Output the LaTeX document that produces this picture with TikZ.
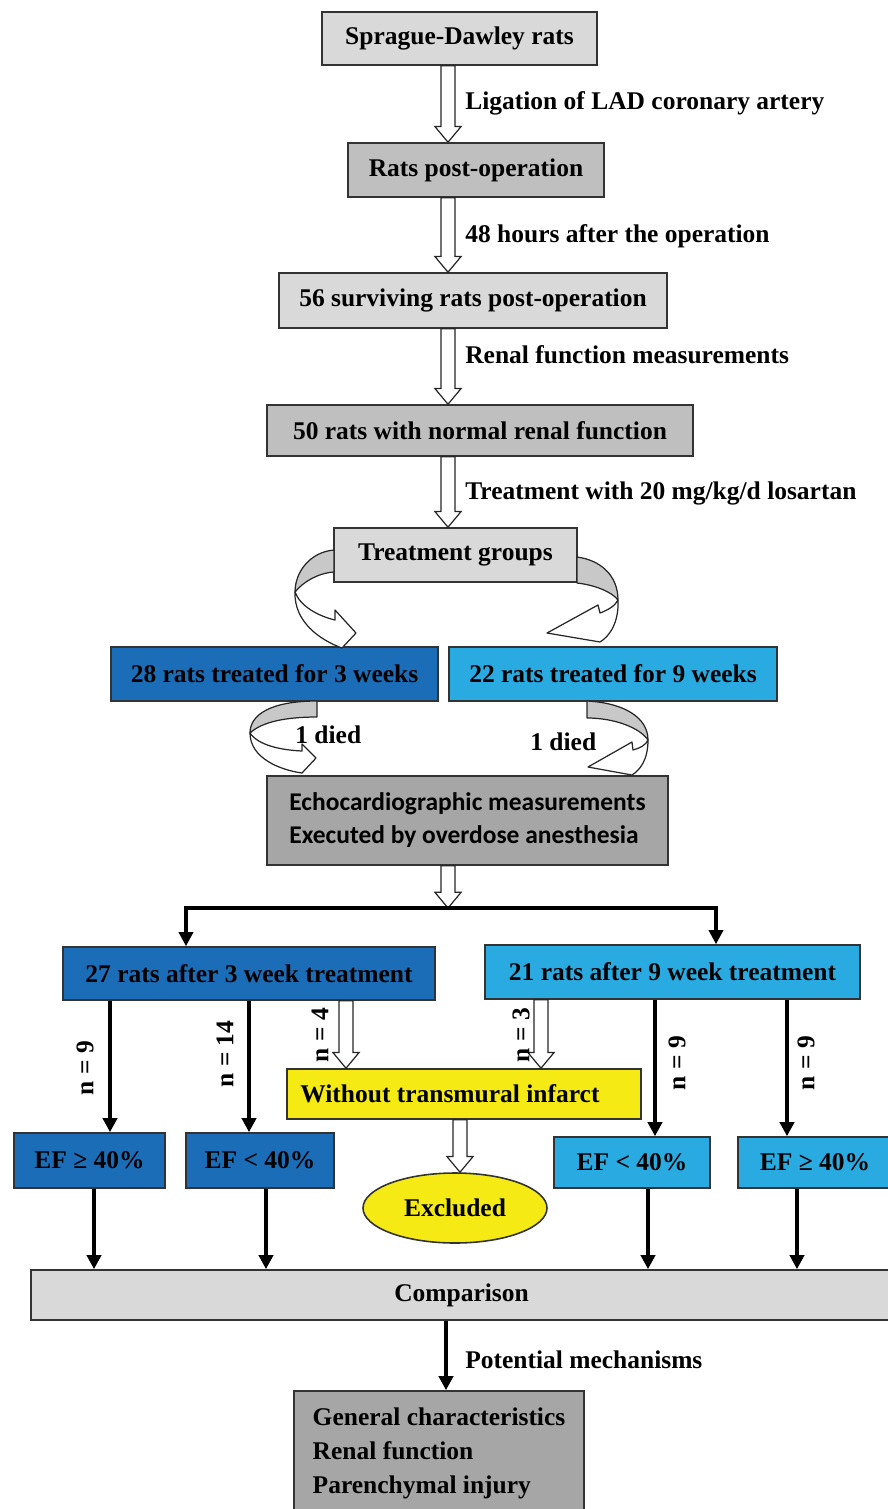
\documentclass[tikz,border=0pt]{standalone}
\usepackage{fontspec}
\setmainfont{Liberation Serif}
\newfontfamily\calfont{Carlito}
\usetikzlibrary{arrows.meta,calc,shapes.geometric}

\definecolor{boxlight}{HTML}{D9D9D9}
\definecolor{boxmid}{HTML}{BFBFBF}
\definecolor{boxdark}{HTML}{A6A6A6}
\definecolor{bluedark}{HTML}{1B6DB7}
\definecolor{bluelight}{HTML}{29ABE2}
\definecolor{infyellow}{HTML}{F5EA14}
\definecolor{curlgray}{HTML}{C8C8C8}

\tikzset{
  stage/.style={draw=black!80, line width=0.9pt, inner sep=0pt, align=center},
  sz/.style 2 args={minimum width=#1*0.02cm, minimum height=#2*0.02cm},
  note/.style={anchor=west, inner sep=0pt},
  nlabel/.style={rotate=90, inner sep=0pt},
  tip/.style={-{Triangle[length=8pt,width=8pt]}},
  barrow/.style={line width=2pt, tip},
  curl/.style={draw=black!85, line width=0.7pt, line join=round},
}

% hollow block arrow, straight down from #1 to #2
\newcommand{\blockarrow}[2]{%
  \draw[fill=white, line width=0.7pt, draw=black!85] let \p1=(#1), \p2=(#2) in
    (\x1-4pt,\y1) -- (\x1-4pt,\y2+9pt) -- (\x1-7.5pt,\y2+9pt) -- (\x1,\y2)
    -- (\x1+7.5pt,\y2+9pt) -- (\x1+4pt,\y2+9pt) -- (\x1+4pt,\y1) -- cycle;}

\begin{document}
\begin{tikzpicture}[x=0.02cm, y=-0.02cm,
    every node/.style={font=\bfseries\fontsize{14.5}{17}\selectfont}]
  \useasboundingbox (0,0) rectangle (888,1509);

  % main chain
  \node[stage, fill=boxlight, sz={275}{53}] (sd) at (459.5,38.5) {Sprague-Dawley rats};
  \node[stage, fill=boxmid, sz={256}{54}] (rp) at (476,170) {Rats post-operation};
  \node[stage, fill=boxlight, sz={388}{55}] (sv) at (473,300.5) {56 surviving rats post-operation};
  \node[stage, fill=boxmid, sz={426}{51}] (nr) at (480,430.5) {50 rats with normal renal function};
  \node[stage, fill=boxlight, sz={243}{54}] (tg) at (455.5,555) {Treatment groups};

  \node[note] (l1) at (465,103) {Ligation of LAD coronary artery};
  \node[note] (l2) at (465,236) {48 hours after the operation};
  \node[note] (l3) at (465,355) {Renal function measurements};
  \node[note] (l4) at (465,493) {Treatment with 20 mg/kg/d losartan};

  \blockarrow{sd.south -| 448,0}{rp.north -| 448,0}
  \blockarrow{rp.south -| 448,0}{sv.north -| 448,0}
  \blockarrow{sv.south -| 448,0}{nr.north -| 448,0}
  \blockarrow{nr.south -| 448,0}{tg.north -| 448,0}

  % groups
  \node[stage, fill=bluedark, sz={327}{54}] (g3) at (274.5,674) {28 rats treated for 3 weeks};
  \node[stage, fill=bluelight, sz={328}{54}] (g9) at (613,674) {22 rats treated for 9 weeks};
  \node[stage, fill=boxdark, sz={401}{89},
        font=\calfont\bfseries\fontsize{14.5}{18.7}\selectfont] (echo) at (467.5,820.5)
        {\begin{tabular}{@{}l@{}}Echocardiographic measurements\\Executed by overdose anesthesia\end{tabular}};

  \node[note] (d1) at (295,735) {1 died};
  \node[note] (d2) at (530,742) {1 died};

  % curled arrows
  \draw[curl, fill=curlgray] (334,550) .. controls (310,552) and (295,572) .. (295,592)
    .. controls (303,582) and (318,573) .. (334,572) -- cycle;
  \draw[curl, fill=white] (295,592) .. controls (294,622) and (320,640) .. (342,648)
    -- (356,633) -- (335,610) -- (335,620) .. controls (318,616) and (300,606) .. (295,592) -- cycle;
  \draw[curl, fill=curlgray] (577,557) .. controls (600,560) and (618,575) .. (618,600)
    .. controls (612,592) and (595,585) .. (577,583) -- cycle;
  \draw[curl, fill=white] (618,600) .. controls (619,622) and (610,636) .. (600,642)
    -- (547,633) -- (598,605) -- (600,613) .. controls (608,610) and (615,606) .. (618,600) -- cycle;
  \draw[curl, fill=curlgray] (317,701) .. controls (270,701) and (250,715) .. (250,733)
    .. controls (262,722) and (285,717) .. (317,717) -- cycle;
  \draw[curl, fill=white] (250,733) .. controls (250,758) and (280,770) .. (302,773)
    -- (316,758) -- (302,744) -- (302,751) .. controls (280,750) and (258,745) .. (250,733) -- cycle;
  \draw[curl, fill=curlgray] (587,701) .. controls (625,703) and (648,718) .. (648,740)
    .. controls (640,728) and (615,718) .. (587,718) -- cycle;
  \draw[curl, fill=white] (648,740) .. controls (648,760) and (640,770) .. (632,775)
    -- (588,767) -- (632,742) -- (633,750) .. controls (640,748) and (646,745) .. (648,740) -- cycle;

  % split after echocardiography
  \coordinate (split) at (448,908);
  \node[stage, fill=bluedark, sz={372}{53}] (a3) at (249,973.5) {27 rats after 3 week treatment};
  \node[stage, fill=bluelight, sz={375}{54}] (a9) at (672.5,972) {21 rats after 9 week treatment};
  \blockarrow{echo.south -| 448,0}{split}
  \draw[line width=1.8pt, {Triangle[length=8pt,width=8pt]}-{Triangle[length=8pt,width=8pt]}]
    (a3.north -| 186,0) |- (split) -| (a9.north -| 716,0);

  % outcomes
  \node[stage, fill=infyellow, sz={354}{50}] (wt) at (464,1094) {Without transmural infarct\hspace*{16pt}};
  \node[stage, ellipse, fill=infyellow, sz={184}{70}] (ex) at (455,1208) {Excluded};
  \node[stage, fill=bluedark, sz={151}{55}] (e1) at (89.5,1160.5) {EF ≥ 40\%};
  \node[stage, fill=bluedark, sz={148}{55}] (e2) at (260,1160.5) {EF < 40\%};
  \node[stage, fill=bluelight, sz={156}{51}] (e3) at (632,1162.5) {EF < 40\%};
  \node[stage, fill=bluelight, sz={154}{51}] (e4) at (815,1162.5) {EF ≥ 40\%};

  \draw[barrow] (a3.south -| 110,0) -- (e1.north -| 110,0);
  \draw[barrow] (a3.south -| 249,0) -- (e2.north -| 249,0);
  \draw[barrow] (a9.south -| 655,0) -- (e3.north -| 655,0);
  \draw[barrow] (a9.south -| 787,0) -- (e4.north -| 787,0);
  \blockarrow{a3.south -| 346,0}{wt.north -| 346,0}
  \blockarrow{a9.south -| 541,0}{wt.north -| 541,0}
  \blockarrow{wt.south -| 460,0}{ex.north -| 460,0}

  \node[nlabel] (n1) at (85,1068) {n = 9};
  \node[nlabel] (n2) at (225,1054) {n = 14};
  \node[nlabel] (n3) at (320,1035) {n = 4};
  \node[nlabel] (n4) at (521,1035) {n = 3};
  \node[nlabel] (n5) at (677,1063) {n = 9};
  \node[nlabel] (n6) at (806,1063) {n = 9};

  % comparison and mechanisms
  \node[stage, fill=boxlight, sz={861}{50}] (cmp) at (461.5,1295) {Comparison};
  \node[stage, fill=boxdark, sz={290}{124},
        font=\bfseries\fontsize{14.5}{19.3}\selectfont] (mech) at (439,1453)
        {\begin{tabular}{@{}l@{}}General characteristics\\Renal function\\Parenchymal injury\end{tabular}};
  \node[note] (l5) at (465,1360) {Potential mechanisms};

  \draw[barrow] (e1.south -| 94,0) -- (cmp.north -| 94,0);
  \draw[barrow] (e2.south -| 266,0) -- (cmp.north -| 266,0);
  \draw[barrow] (e3.south -| 648,0) -- (cmp.north -| 648,0);
  \draw[barrow] (e4.south -| 797,0) -- (cmp.north -| 797,0);
  \draw[barrow] (cmp.south -| 446,0) -- (mech.north -| 446,0);
\end{tikzpicture}
\end{document}
